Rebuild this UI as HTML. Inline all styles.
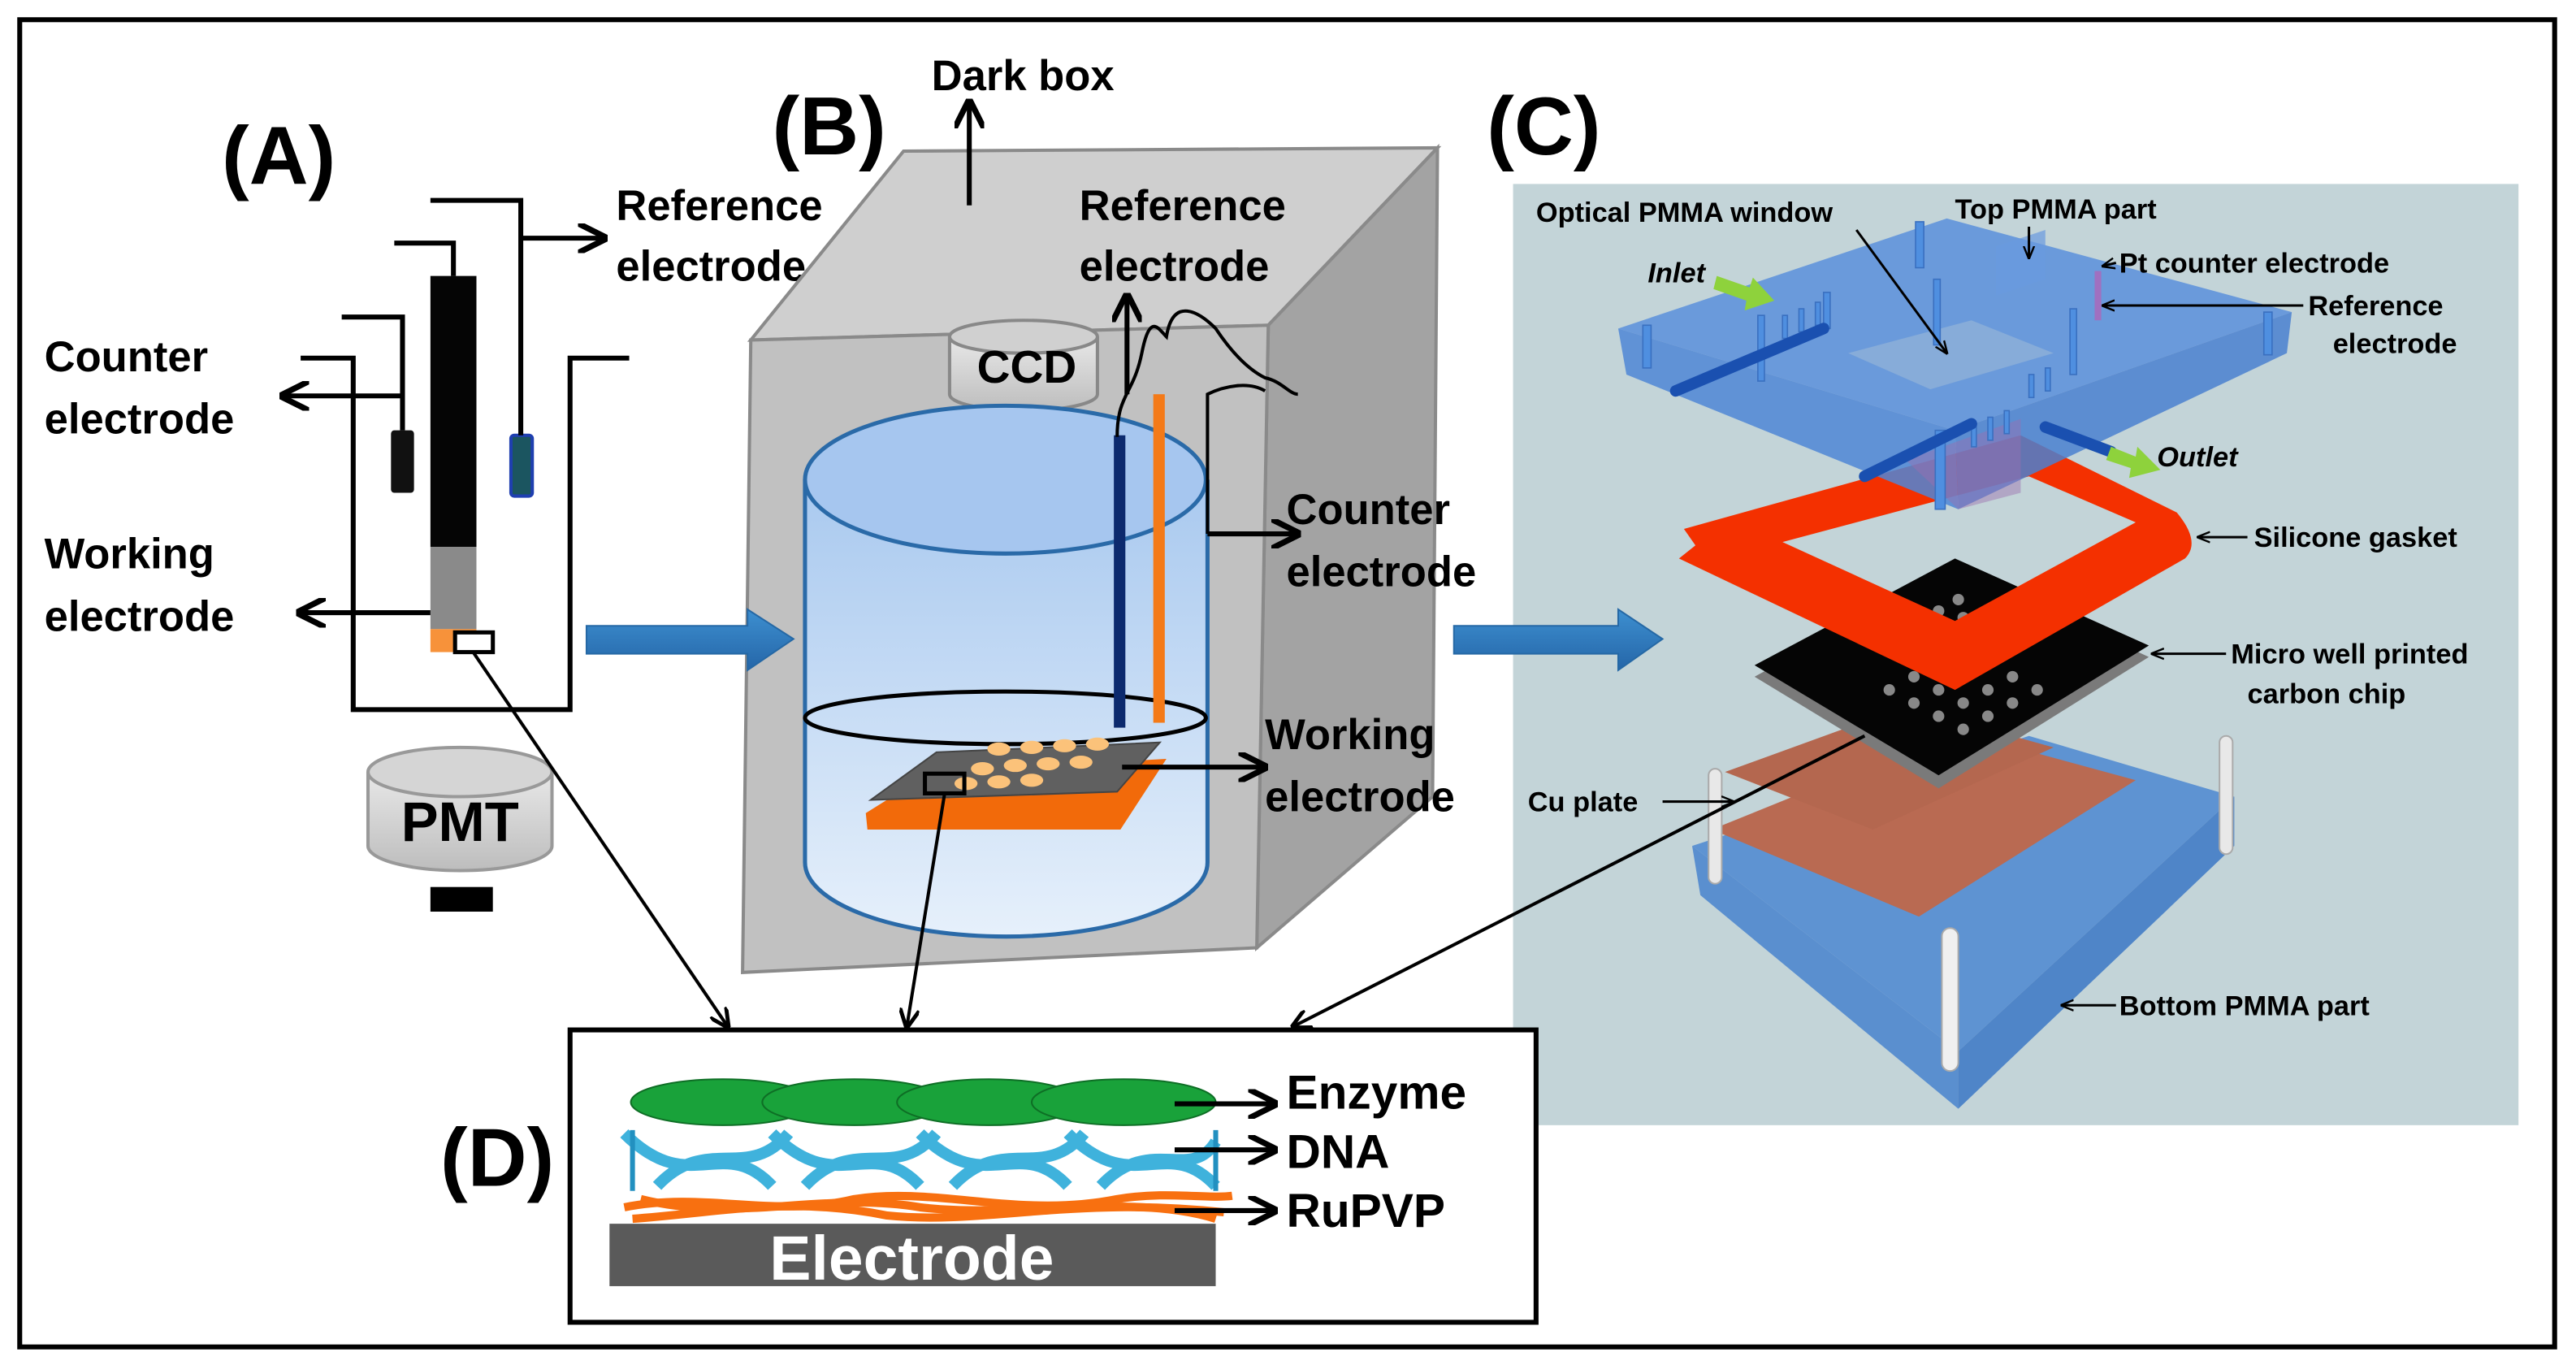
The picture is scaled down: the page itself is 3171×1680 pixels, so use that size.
<!DOCTYPE html>
<html><head><meta charset="utf-8"><style>html,body{margin:0;padding:0;background:#fff}svg{display:block}text{font-family:"Liberation Sans",sans-serif;font-weight:bold}</style></head>
<body>
<svg width="3171" height="1680" viewBox="0 0 1568 831" preserveAspectRatio="none" xmlns="http://www.w3.org/2000/svg">
<defs>
<marker id="ah" viewBox="0 0 10 10" refX="9" refY="5" markerWidth="6" markerHeight="6" orient="auto"><path d="M0,0 L10,5 L0,10" fill="none" stroke="#000" stroke-width="2"/></marker>
<marker id="as" viewBox="0 0 10 10" refX="9" refY="5" markerWidth="8" markerHeight="8" orient="auto" markerUnits="userSpaceOnUse"><path d="M0,1 L10,5 L0,9" fill="none" stroke="#000" stroke-width="1.5"/></marker>
<linearGradient id="water" x1="0" y1="0" x2="0" y2="1"><stop offset="0" stop-color="#a9c9ef"/><stop offset="1" stop-color="#e6f0fb"/></linearGradient>
<linearGradient id="cyl" x1="0" y1="0" x2="0" y2="1"><stop offset="0" stop-color="#e8e8e8"/><stop offset="1" stop-color="#bdbdbd"/></linearGradient>
<linearGradient id="barr" x1="0" y1="0" x2="0" y2="1"><stop offset="0" stop-color="#3d8fd0"/><stop offset="1" stop-color="#2566a8"/></linearGradient>
</defs>
<rect x="12" y="12" width="1543" height="808" fill="#fff" stroke="#000" stroke-width="3"/>

<text x="135" y="112" font-size="50">(A)</text>
<text x="470" y="94" font-size="50">(B)</text>
<text x="905" y="94" font-size="50">(C)</text>
<text x="268" y="722" font-size="50">(D)</text>

<!-- Panel A -->
<path d="M183,218 H215 V432 H347 V218 H383" fill="none" stroke="#000" stroke-width="3"/>
<rect x="262" y="168" width="28" height="165" fill="#050505"/>
<rect x="262" y="333" width="28" height="50" fill="#8a8a8a"/>
<rect x="262" y="383" width="28" height="14" fill="#f7923a"/>
<rect x="277" y="385" width="23" height="12" fill="#fff" stroke="#000" stroke-width="2.5"/>
<path d="M276,168 V148 H240" fill="none" stroke="#000" stroke-width="3"/>
<rect x="238" y="262" width="14" height="38" rx="2" fill="#111"/>
<path d="M245,262 V193 H208" fill="none" stroke="#000" stroke-width="3"/>
<line x1="245" y1="241" x2="172" y2="241" stroke="#000" stroke-width="3" marker-end="url(#ah)"/>
<rect x="311" y="265" width="13" height="37" rx="2" fill="#1b5560" stroke="#1f3fb0" stroke-width="2"/>
<path d="M317,265 V122 H262" fill="none" stroke="#000" stroke-width="3"/>
<line x1="317" y1="145" x2="368" y2="145" stroke="#000" stroke-width="3" marker-end="url(#ah)"/>
<line x1="262" y1="373" x2="182" y2="373" stroke="#000" stroke-width="3" marker-end="url(#ah)"/>
<text x="375" y="134" font-size="26">Reference</text>
<text x="375" y="171" font-size="26">electrode</text>
<text x="27" y="226" font-size="26">Counter</text>
<text x="27" y="264" font-size="26">electrode</text>
<text x="27" y="346" font-size="26">Working</text>
<text x="27" y="384" font-size="26">electrode</text>
<path d="M224,470 V515 A56,15 0 0 0 336,515 V470" fill="url(#cyl)" stroke="#999" stroke-width="2"/>
<ellipse cx="280" cy="470" rx="56" ry="15" fill="#d5d5d5" stroke="#999" stroke-width="2"/>
<text x="280" y="512" font-size="34" text-anchor="middle">PMT</text>
<rect x="262" y="540" width="38" height="15" fill="#000"/>

<!-- Panel B box -->
<polygon points="457,207 550,92 875,90 772,198" fill="#cfcfcf" stroke="#8a8a8a" stroke-width="2"/>
<polygon points="772,198 875,90 872,485 765,577" fill="#a3a3a3" stroke="#8a8a8a" stroke-width="2"/>
<polygon points="457,207 772,198 765,577 452,592" fill="#c1c1c1" stroke="#8a8a8a" stroke-width="2"/>
<text x="567" y="55" font-size="26">Dark box</text>
<line x1="590" y1="125" x2="590" y2="62" stroke="#000" stroke-width="3" marker-end="url(#ah)"/>
<path d="M578,205 V240 A45,10 0 0 0 668,240 V205" fill="url(#cyl)" stroke="#888" stroke-width="2"/>
<ellipse cx="623" cy="205" rx="45" ry="10" fill="#d0d0d0" stroke="#888" stroke-width="2"/>
<text x="625" y="233" font-size="28" text-anchor="middle">CCD</text>
<rect x="602" y="250" width="32" height="9" fill="#000"/>
<path d="M490,292 V525 A122,45 0 0 0 735,525 V292" fill="url(#water)" stroke="#2a6aa8" stroke-width="2.5"/>
<ellipse cx="612" cy="292" rx="122" ry="45" fill="#a6c6ef" stroke="#2a6aa8" stroke-width="2.5"/>
<ellipse cx="612" cy="437" rx="122" ry="16" fill="none" stroke="#000" stroke-width="2.5"/>
<rect x="678" y="265" width="7" height="178" fill="#0c2a6e"/>
<rect x="702" y="240" width="7" height="200" fill="#f47a18"/>
<path d="M680,266 C680,240 690,240 695,215 C700,190 705,200 710,205 C714,180 730,190 740,200 C750,215 760,225 770,230 C780,232 785,240 790,240" fill="none" stroke="#000" stroke-width="2"/>
<path d="M735,325 V240 C745,235 760,232 770,238" fill="none" stroke="#000" stroke-width="2"/>
<polygon points="527,495 567,470 710,462 682,505 528,505" fill="#f26a0a"/>
<polygon points="530,487 570,458 706,452 680,482" fill="#606060" stroke="#444"/>
<g fill="#fbc27a">
<ellipse cx="598" cy="468" rx="7" ry="4"/><ellipse cx="618" cy="466" rx="7" ry="4"/><ellipse cx="638" cy="465" rx="7" ry="4"/><ellipse cx="658" cy="464" rx="7" ry="4"/>
<ellipse cx="608" cy="456" rx="7" ry="4"/><ellipse cx="628" cy="455" rx="7" ry="4"/><ellipse cx="648" cy="454" rx="7" ry="4"/><ellipse cx="668" cy="453" rx="7" ry="4"/>
<ellipse cx="588" cy="477" rx="7" ry="4"/><ellipse cx="608" cy="476" rx="7" ry="4"/><ellipse cx="628" cy="475" rx="7" ry="4"/>
</g>
<rect x="563" y="471" width="24" height="12" fill="none" stroke="#000" stroke-width="2.5"/>
<text x="657" y="134" font-size="26">Reference</text>
<text x="657" y="171" font-size="26">electrode</text>
<line x1="686" y1="240" x2="686" y2="180" stroke="#000" stroke-width="3" marker-end="url(#ah)"/>
<text x="783" y="319" font-size="26">Counter</text>
<text x="783" y="357" font-size="26">electrode</text>
<line x1="735" y1="325" x2="790" y2="325" stroke="#000" stroke-width="3" marker-end="url(#ah)"/>
<text x="770" y="456" font-size="26">Working</text>
<text x="770" y="494" font-size="26">electrode</text>
<line x1="683" y1="467" x2="770" y2="467" stroke="#000" stroke-width="3" marker-end="url(#ah)"/>

<!-- Panel C -->
<rect x="921" y="112" width="612" height="573" fill="#c3d4d8"/>
<polygon points="1030,515 1235,448 1360,485 1192,640" fill="#5e93d2"/>
<polygon points="1030,515 1192,640 1192,675 1035,545" fill="#5a8fcf"/>
<polygon points="1192,640 1360,485 1360,515 1192,675" fill="#4f85c8"/>
<polygon points="1042,505 1190,445 1300,475 1168,558" fill="#b96a52"/>
<polygon points="1050,470 1160,430 1250,455 1140,505" fill="#b4674f"/>
<rect x="1040" y="468" width="8" height="70" rx="4" fill="#e8e8e8" stroke="#aaa"/>
<rect x="1351" y="448" width="8" height="72" rx="4" fill="#e8e8e8" stroke="#aaa"/>
<rect x="1182" y="565" width="10" height="87" rx="5" fill="#f0f0f0" stroke="#aaa"/>
<polygon points="1068,412 1190,345 1308,400 1180,480" fill="#7a7a7a"/>
<polygon points="1068,405 1190,340 1308,393 1180,472" fill="#050505"/>
<g fill="#888">
<circle cx="1150" cy="420" r="3.5"/><circle cx="1165" cy="428" r="3.5"/><circle cx="1180" cy="436" r="3.5"/><circle cx="1195" cy="444" r="3.5"/>
<circle cx="1165" cy="412" r="3.5"/><circle cx="1180" cy="420" r="3.5"/><circle cx="1195" cy="428" r="3.5"/><circle cx="1210" cy="436" r="3.5"/>
<circle cx="1180" cy="404" r="3.5"/><circle cx="1195" cy="412" r="3.5"/><circle cx="1210" cy="420" r="3.5"/><circle cx="1225" cy="428" r="3.5"/>
<circle cx="1195" cy="396" r="3.5"/><circle cx="1210" cy="404" r="3.5"/><circle cx="1225" cy="412" r="3.5"/><circle cx="1240" cy="420" r="3.5"/>
<circle cx="1180" cy="372" r="3.5"/><circle cx="1192" cy="365" r="3.5"/><circle cx="1180" cy="382" r="3.5"/><circle cx="1195" cy="376" r="3.5"/>
</g>
<path d="M1022,340 L1032,332 L1025,322 L1230,265 L1325,312 Q1340,330 1330,340 L1190,420 Z M1085,330 L1190,378 L1300,318 L1235,290 Z" fill="#f43000" fill-rule="evenodd"/>
<!-- top PMMA -->
<polygon points="985,200 1185,133 1395,190 1190,262" fill="#5a8fdc" fill-opacity="0.85"/>
<polygon points="985,200 1190,262 1192,310 990,228" fill="#4f86d6" fill-opacity="0.85"/>
<polygon points="1190,262 1395,190 1392,215 1192,310" fill="#4a80d0" fill-opacity="0.85"/>
<polygon points="1125,215 1200,195 1250,215 1175,237" fill="#8eb0d8" fill-opacity="0.8"/>
<polygon points="1160,280 1230,255 1230,300 1192,310" fill="#9b6fb0" fill-opacity="0.45"/>
<g fill="#4f8fe0" stroke="#3a70c0" stroke-width="0.8">
<rect x="1000" y="198" width="5" height="26"/><rect x="1166" y="135" width="5" height="28"/><rect x="1378" y="190" width="5" height="26"/>
<rect x="1070" y="192" width="4" height="40"/><rect x="1110" y="178" width="4" height="22"/><rect x="1177" y="170" width="4" height="40"/>
<rect x="1178" y="262" width="6" height="48"/><rect x="1260" y="188" width="4" height="40"/>
<rect x="1085" y="192" width="3" height="14"/><rect x="1095" y="188" width="3" height="14"/><rect x="1105" y="184" width="3" height="14"/>
<rect x="1200" y="258" width="3" height="14"/><rect x="1210" y="254" width="3" height="14"/><rect x="1220" y="250" width="3" height="14"/><rect x="1235" y="228" width="3" height="14"/><rect x="1245" y="224" width="3" height="14"/>
</g>
<polygon points="1215,150 1245,140 1245,170 1215,180" fill="#6a9ae0" fill-opacity="0.7"/>
<line x1="1020" y1="238" x2="1110" y2="200" stroke="#1a50b0" stroke-width="7" stroke-linecap="round"/>
<line x1="1135" y1="290" x2="1200" y2="258" stroke="#1a50b0" stroke-width="7" stroke-linecap="round"/>
<line x1="1245" y1="260" x2="1285" y2="275" stroke="#1a50b0" stroke-width="7" stroke-linecap="round"/>
<polygon points="1045,168 1065,175 1067,169 1080,183 1062,189 1063,183 1043,176" fill="#8ed23c"/>
<polygon points="1285,272 1300,278 1301,272 1315,286 1296,291 1297,285 1282,280" fill="#8ed23c"/>
<rect x="1275" y="165" width="4" height="30" fill="#a070c0"/>
<g font-size="17">
<text x="935" y="135">Optical PMMA window</text>
<text x="1190" y="133">Top PMMA part</text>
<text x="1290" y="166">Pt counter electrode</text>
<text x="1405" y="192">Reference</text>
<text x="1420" y="215">electrode</text>
<text x="1003" y="172" font-style="italic">Inlet</text>
<text x="1313" y="284" font-style="italic">Outlet</text>
<text x="1372" y="333">Silicone gasket</text>
<text x="1358" y="404">Micro well printed</text>
<text x="1368" y="428">carbon chip</text>
<text x="930" y="494">Cu plate</text>
<text x="1290" y="618">Bottom PMMA part</text>
</g>
<g stroke="#000" stroke-width="1.5" fill="none">
<line x1="1130" y1="140" x2="1185" y2="215" marker-end="url(#as)"/>
<line x1="1235" y1="138" x2="1235" y2="157" marker-end="url(#as)"/>
<line x1="1288" y1="160" x2="1280" y2="162" marker-end="url(#as)"/>
<line x1="1402" y1="186" x2="1280" y2="186" marker-end="url(#as)"/>
<line x1="1368" y1="327" x2="1338" y2="327" marker-end="url(#as)"/>
<line x1="1355" y1="398" x2="1310" y2="398" marker-end="url(#as)"/>
<line x1="1012" y1="488" x2="1055" y2="488" marker-end="url(#as)"/>
<line x1="1288" y1="612" x2="1255" y2="612" marker-end="url(#as)"/>
</g>

<!-- Blue arrows (on top) -->
<path d="M357,381 H455 V371 L483,389 L455,408 V398 H357 Z" fill="url(#barr)" stroke="#2568a5"/>
<path d="M885,381 H985 V371 L1012,389 L985,408 V398 H885 Z" fill="url(#barr)" stroke="#2568a5"/>

<line x1="288" y1="397" x2="443" y2="625" stroke="#000" stroke-width="2" marker-end="url(#ah)"/>
<line x1="575" y1="483" x2="552" y2="625" stroke="#000" stroke-width="2" marker-end="url(#ah)"/>
<line x1="1135" y1="448" x2="787" y2="625" stroke="#000" stroke-width="2" marker-end="url(#ah)"/>

<!-- Panel D -->
<rect x="347" y="627" width="588" height="178" fill="#fff" stroke="#000" stroke-width="3"/>
<g fill="#19a23a" stroke="#0e6e25" stroke-width="1">
<ellipse cx="440" cy="671" rx="56" ry="14"/><ellipse cx="520" cy="671" rx="56" ry="14"/><ellipse cx="602" cy="671" rx="56" ry="14"/><ellipse cx="684" cy="671" rx="56" ry="14"/>
</g>
<g stroke="#3fb2dc" stroke-width="7" fill="none">
<path d="M380,690 C420,730 440,690 470,722 M400,722 C430,690 455,720 480,690 M470,690 C510,730 530,690 560,722 M490,722 C520,690 545,720 570,690 M560,690 C600,730 620,690 650,722 M580,722 C610,690 635,720 660,690 M650,690 C690,730 710,690 740,722 M670,722 C700,690 725,720 740,695"/>
</g>
<g stroke="#2290c0" stroke-width="3"><line x1="385" y1="688" x2="385" y2="725"/><line x1="740" y1="688" x2="740" y2="725"/></g>
<g stroke="#f87010" stroke-width="5" fill="none">
<path d="M380,735 C430,725 470,742 520,730 C570,722 620,742 680,730 C710,725 735,730 750,728"/>
<path d="M385,742 C440,738 480,728 540,740 C600,746 650,728 745,738"/>
<path d="M390,730 C450,745 500,725 560,735 C620,742 690,726 740,742"/>
</g>
<rect x="371" y="745" width="369" height="38" fill="#5a5a5a"/>
<text x="555" y="779" font-size="38" fill="#fff" text-anchor="middle">Electrode</text>
<g stroke="#000" stroke-width="3">
<line x1="715" y1="672" x2="776" y2="672" marker-end="url(#ah)"/>
<line x1="715" y1="700" x2="776" y2="700" marker-end="url(#ah)"/>
<line x1="715" y1="737" x2="776" y2="737" marker-end="url(#ah)"/>
</g>
<text x="783" y="675" font-size="29">Enzyme</text>
<text x="783" y="711" font-size="29">DNA</text>
<text x="783" y="747" font-size="29">RuPVP</text>
</svg>
</body></html>
